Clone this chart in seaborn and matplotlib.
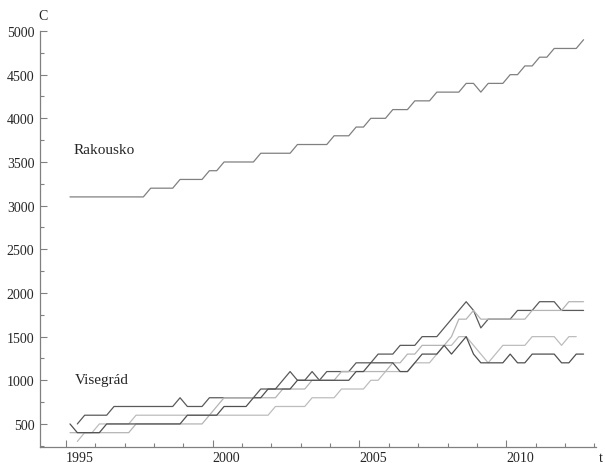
import numpy as np
import pandas as pd
import matplotlib
matplotlib.use("Agg")
import matplotlib.pyplot as plt
import seaborn as sns

# quarterly values, first quarter plotted just after the 1995 tick
t0 = 1995.136
n_q = 71

rakousko = ([3100] * 11 + [3200] * 4 + [3300] * 4 + [3400] * 2 + [3500] * 5
            + [3600] * 5 + [3700] * 5 + [3800] * 3 + [3900] * 2 + [4000] * 3
            + [4100] * 3 + [4200] * 3 + [4300] * 4 + [4400] * 2 + [4300]
            + [4400] * 3 + [4500] * 2 + [4600] * 2 + [4700] * 2 + [4800] * 4 + [4900])

# four Visegrad countries (two darker, two lighter lines)
v_dark1 = ([np.nan, 500] + [600] * 4 + [700] * 9 + [800] + [700] * 3 + [800] * 7
           + [900] * 3 + [1000, 1100, 1000, 1000, 1100, 1000] + [1100] * 4
           + [1200] * 3 + [1300] * 3 + [1400] * 3 + [1500] * 3
           + [1600, 1700, 1800, 1900, 1800, 1600] + [1700] * 4 + [1800] * 3
           + [1900] * 3 + [1800] * 4)
v_light1 = ([400] * 9 + [500] * 10 + [600, 700] + [800] * 8 + [900] * 4
            + [1000] * 4 + [1100] * 7 + [1200] * 2 + [1300] * 2 + [1400] * 4
            + [1500, 1700, 1700, 1800] + [1700] * 7 + [1800] * 5 + [1900] * 3)
v_light2 = ([np.nan, 300, 400, 400] + [500] * 5 + [600] * 19 + [700] * 5
            + [800] * 4 + [900] * 4 + [1000] * 2 + [1100] * 4 + [1200] * 3
            + [1300] + [1400] * 2 + [1500] * 2 + [1400, 1300, 1200, 1300]
            + [1400] * 4 + [1500] * 4 + [1400, 1500, 1500, np.nan])
v_dark2 = ([500] + [400] * 4 + [500] * 11 + [600] * 5 + [700] * 4 + [800] * 2
           + [900] * 4 + [1000] * 8 + [1100] * 2 + [1200] * 4 + [1100] * 2
           + [1200] + [1300] * 3 + [1400, 1300, 1400, 1500, 1300]
           + [1200] * 4 + [1300] + [1200] * 2 + [1300] * 4 + [1200] * 2 + [1300] * 2)

series = {"Rakousko": rakousko, "CZ": v_dark1, "HU": v_light1,
          "PL": v_light2, "SK": v_dark2}
colors = {"Rakousko": "#808080", "CZ": "#5a5a5a", "HU": "#b4b4b4",
          "PL": "#bdbdbd", "SK": "#505050"}

t = t0 + 0.25 * np.arange(n_q)
frames = []
for name, vals in series.items():
    frames.append(pd.DataFrame({"t": t, "C": np.array(vals, dtype=float), "serie": name}))
df = pd.concat(frames, ignore_index=True).dropna()

sns.set_style("ticks")
plt.rcParams["font.family"] = ["Liberation Serif", "DejaVu Serif"]

fig = plt.figure(figsize=(6.05, 4.64), dpi=100)
ax = fig.add_axes([40 / 605, 1 - 448 / 464, 556 / 605, 416 / 464])

sns.lineplot(data=df, x="t", y="C", hue="serie", palette=colors,
             estimator=None, linewidth=0.9, legend=False, ax=ax)

ax.set_xlim(1994.114, 2013.06)
ax.set_ylim(236, 5000)
sns.despine(ax=ax)
for s in ["left", "bottom"]:
    ax.spines[s].set_color("#808080")
    ax.spines[s].set_linewidth(0.9)

ax.set_xticks([1995, 2000, 2005, 2010])
ax.set_xticks(np.arange(1995, 2014), minor=True)
ax.set_yticks(np.arange(500, 5001, 500))
ax.set_yticks(np.arange(250, 5001, 250), minor=True)
ax.set_xticklabels(["1995", "2000", "2005", "2010"], ha="left")
ax.tick_params(which="both", direction="in", color="#808080", labelsize=10, width=0.8)
ax.tick_params(which="major", length=5)
ax.tick_params(which="minor", length=3)
ax.tick_params(axis="x", pad=3)
ax.tick_params(axis="y", pad=4)
ax.set_xlabel("")
ax.set_ylabel("")

ax.text(1995.24, 3648, "Rakousko", fontsize=11, va="center", ha="left")
ax.text(1995.31, 1014, "Visegrád", fontsize=11, va="center", ha="left")
fig.text(43 / 605, 1 - 17 / 464, "C", fontsize=10, ha="center", va="center")
fig.text(601 / 605, 1 - 459 / 464, "t", fontsize=10, ha="center", va="center")

fig.savefig("out.png", dpi=100)
